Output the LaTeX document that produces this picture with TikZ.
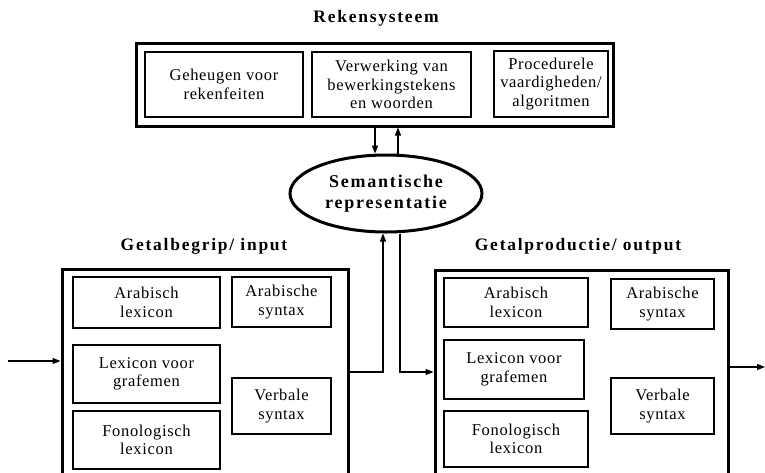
\documentclass[tikz,border=0pt]{standalone}
\usepackage{fontspec}
\setmainfont{Liberation Serif}[LetterSpace=4]
\usetikzlibrary{arrows.meta,shapes.geometric}

\tikzset{
  outerbox/.style={draw, line width=3pt, inner sep=0pt},
  innerbox/.style={draw, line width=1.1pt, align=center, inner sep=0pt,
    font=\fontsize{16.5}{18.5}\selectfont},
  boxtitle/.style={font=\bfseries\fontsize{17.5}{20}\selectfont\addfontfeatures{LetterSpace=10}},
  link/.style={line width=1.2pt},
  arr/.style={link, -{Triangle[length=8pt,width=6pt]}}
}

\begin{document}
\begin{tikzpicture}[x=1pt,y=-1pt]
  \useasboundingbox (0,0) rectangle (765,472);
  \clip (0,0) rectangle (765,472);

  % rekensysteem
  \node[boxtitle] (rektitle) at (376,18) {Rekensysteem};
  \node[outerbox, minimum width=477pt, minimum height=83pt] (rek) at (374.5,84.5) {};
  \node[innerbox, minimum width=158pt, minimum height=65pt] (geh) at (224,84.5) {Geheugen voor\\rekenfeiten};
  \node[innerbox, minimum width=159pt, minimum height=65pt] (verw) at (391.5,84.5) {Verwerking van\\bewerkingstekens\\en woorden};
  \node[innerbox, minimum width=114pt, minimum height=66pt] (proc) at (551,84) {Procedurele\\vaardigheden/\\algoritmen};

  % semantische representatie
  \node[draw, ellipse, line width=3pt, minimum width=192pt, minimum height=77pt, align=center,
    inner sep=0pt, font=\bfseries\fontsize{18}{21}\selectfont\addfontfeatures{LetterSpace=10}]
    (sem) at (386,193.5) {Semantische\\representatie};

  % getalbegrip
  \node[boxtitle] (gintitle) at (204,246) {Getalbegrip/ input};
  \node[outerbox, minimum width=286pt, minimum height=216pt] (gin) at (205,377) {};
  \node[innerbox, minimum width=147pt, minimum height=51pt] (lal) at (146.5,302.5) {Arabisch\\lexicon};
  \node[innerbox, minimum width=99pt, minimum height=50pt] (las) at (281.5,302) {Arabische\\syntax};
  \node[innerbox, minimum width=147pt, minimum height=58pt] (llg) at (146.5,374) {Lexicon voor\\grafemen};
  \node[innerbox, minimum width=147pt, minimum height=58pt] (lfl) at (146.5,440) {Fonologisch\\lexicon};
  \node[innerbox, minimum width=99pt, minimum height=56pt] (lvs) at (281.5,406) {Verbale\\syntax};

  % getalproductie
  \node[boxtitle] (gouttitle) at (578,246) {Getalproductie/ output};
  \node[outerbox, minimum width=293pt, minimum height=216pt] (gout) at (581.5,378) {};
  \node[innerbox, minimum width=144pt, minimum height=49pt] (ral) at (516,302.5) {Arabisch\\lexicon};
  \node[innerbox, minimum width=103pt, minimum height=50pt] (ras) at (662.5,304) {Arabische\\syntax};
  \node[innerbox, minimum width=140pt, minimum height=59pt] (rlg) at (514,369.5) {Lexicon voor\\grafemen};
  \node[innerbox, minimum width=144pt, minimum height=56pt] (rfl) at (516,439) {Fonologisch\\lexicon};
  \node[innerbox, minimum width=103pt, minimum height=56pt] (rvs) at (662.5,406) {Verbale\\syntax};

  % verbindingen
  \coordinate (semdn) at (375,0);
  \coordinate (semup) at (398,0);
  \coordinate (inp) at (8,361);
  \coordinate (lup) at (383,372);
  \coordinate (rdn) at (400,372);
  \coordinate (outp) at (765,367);

  \draw[arr] (rek.south -| semdn) -- (sem.north -| semdn);
  \draw[arr] (sem.north -| semup) -- (rek.south -| semup);
  \draw[arr] (inp) -- (inp -| gin.west);
  \draw[arr] (lup -| gin.east) -- (lup) -- (lup |- sem.south);
  \draw[arr] (rdn |- sem.south) -- (rdn) -- (rdn -| gout.west);
  \draw[arr] (outp -| gout.east) -- (outp);
\end{tikzpicture}
\end{document}
